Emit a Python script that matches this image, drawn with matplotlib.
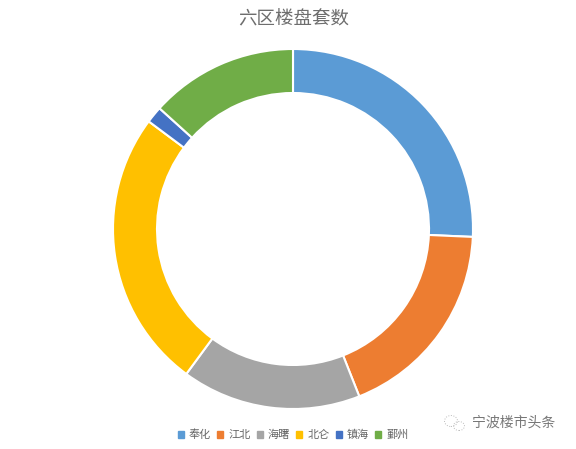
import matplotlib
matplotlib.use('Agg')
import matplotlib.pyplot as plt
from matplotlib.patches import Patch, Ellipse

plt.rcParams['font.family'] = ['Noto Sans CJK SC', 'DejaVu Sans']

# 六区楼盘套数
categorias = ['奉化', '江北', '海曙', '北仑', '镇海', '鄞州']
valores = [25.7, 18.3, 16.1, 25.1, 1.5, 13.3]
colores = ['#5B9BD5', '#ED7D31', '#A5A5A5', '#FFC000', '#4472C4', '#70AD47']

fig = plt.figure(figsize=(5.76, 4.49), dpi=100)
ax = fig.add_axes([0, 0, 1, 1])

ax.pie(valores, colors=colores, startangle=90, counterclock=False,
       center=(293, 449 - 229), radius=180,
       wedgeprops={'width': 44, 'edgecolor': 'white', 'linewidth': 1.5},
       frame=True)
ax.set_xlim(0, 576)
ax.set_ylim(0, 449)
ax.axis('off')

fig.text(293.5 / 576, 1 - 19 / 449, '六区楼盘套数', ha='center', va='center',
         fontsize=13.3, color='#6E6E6E')

handles = [Patch(color=c, label=n) for c, n in zip(colores, categorias)]
fig.legend(handles=handles, loc='center', bbox_to_anchor=(293 / 576, 1 - 435 / 449),
           ncol=6, frameon=False, fontsize=8, labelcolor='#666666',
           handlelength=0.55, handleheight=0.55, handletextpad=0.45, columnspacing=0.55)

# marca de agua
fig.text(514 / 576, 1 - 423 / 449, '宁波楼市头条', ha='center', va='center',
         fontsize=10, color='#777777')
ax.add_patch(Ellipse((451, 449 - 421), 13, 11, fill=False, ec='#BBBBBB', lw=0.7, ls=':'))
ax.add_patch(Ellipse((459, 449 - 426), 11, 9, fill=False, ec='#BBBBBB', lw=0.7, ls=':'))

fig.savefig('out.png', dpi=100)
plt.close()
